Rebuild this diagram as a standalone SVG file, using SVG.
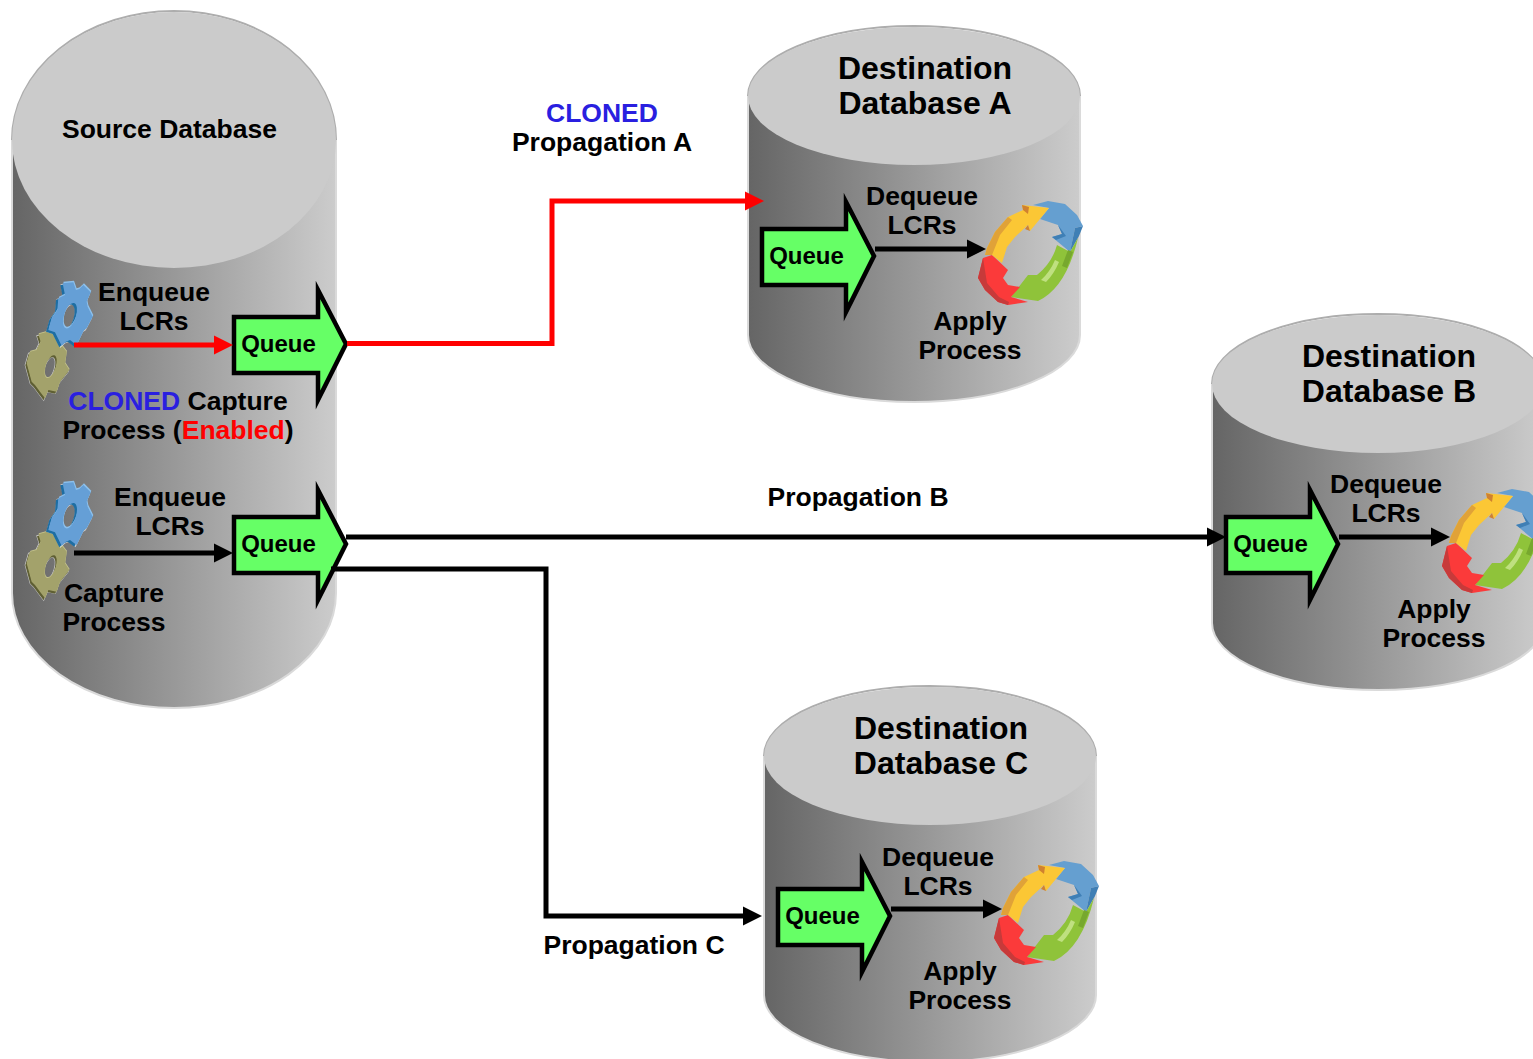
<svg xmlns="http://www.w3.org/2000/svg" xmlns:xlink="http://www.w3.org/1999/xlink" width="1533" height="1059" viewBox="0 0 1533 1059">
<style>
text{font-family:"Liberation Sans",Arial,sans-serif;font-weight:700;fill:#000;text-anchor:middle}
.s27{font-size:26.500px}.s33{font-size:32px}
.l{stroke:#000;stroke-width:5;fill:none}.r{stroke:#f00;stroke-width:5;fill:none}
.top{fill:#cbcbcb}.rim{fill:none;stroke:#adadad;stroke-width:2}.side{fill:url(#cyl);stroke:#dadada;stroke-width:2}
.blue{fill:#2a1fe0}.red{fill:#f00}
</style>
<defs>
<linearGradient id="cyl" x1="0" x2="1" y1="0" y2="0"><stop offset="0" stop-color="#656565"/><stop offset="1" stop-color="#cccccc"/></linearGradient>
<marker id="hb" markerUnits="userSpaceOnUse" markerWidth="20" markerHeight="20" refX="0" refY="10" orient="auto"><path d="M0,.5 L19,10 L0,19.5Z" fill="#000"/></marker>
<marker id="hr" markerUnits="userSpaceOnUse" markerWidth="20" markerHeight="20" refX="0" refY="10" orient="auto"><path d="M0,.5 L19,10 L0,19.5Z" fill="#f00"/></marker>
<g id="queue">
<path d="M0,0H84V-27L112,27L84,83V56H0Z" fill="#66ff66" stroke="#000" stroke-width="4.500" stroke-miterlimit="8"/>
<text x="44.500" y="34.500" style="font-size:24px">Queue</text>
</g>
<path id="bluegear" fill-rule="evenodd" d="M128,25L160,22L168,45L178,42L190,30L212,52L200,80L203,95L218,125L200,160L192,165L170,210L150,195L138,200L125,212L105,172L85,165L95,130L112,105L115,70L135,60ZM162,84A17,38 18 1 0 138,160A17,38 18 1 0 162,84Z"/>
<path id="olivegear" fill-rule="evenodd" d="M55,178L90,168L120,205L140,230L135,265L148,285L120,320L110,350L85,345L75,370L60,350L45,330L35,320L20,265L30,230L50,225L62,200ZM103,241A15,35 18 1 0 81,309A15,35 18 1 0 103,241Z"/>
<g id="gears" transform="translate(20,275) scale(.3333)">
<use xlink:href="#olivegear" fill="#fff" stroke="#fff" stroke-width="4" opacity=".6" transform="translate(-4,5)"/>
<use xlink:href="#olivegear" fill="#5f5f33" transform="translate(-4,6)"/>
<use xlink:href="#olivegear" fill="#c3c28c" transform="translate(1,-3)"/>
<use xlink:href="#olivegear" fill="#a3a26b"/>
<use xlink:href="#bluegear" fill="#fff" stroke="#fff" stroke-width="4" opacity=".6" transform="translate(-4,4)"/>
<use xlink:href="#bluegear" fill="#1e6ea3" transform="translate(-7,5)"/>
<use xlink:href="#bluegear" fill="#8cc0ec" transform="translate(2,-5)"/>
<use xlink:href="#bluegear" fill="#659fd6"/>
</g>
<g id="ring">
<path d="M1033,205L1048,201L1065,204L1077,215L1083,226L1075,228L1070,252L1052,237L1062,234L1058,225L1040,219L1049,208Z" fill="#659fd0"/>
<path d="M1083,226L1075,228L1070,252L1079,236Z" fill="#3f7fb5"/>
<path d="M1058,225L1062,234L1052,237L1056,240L1066,236Z" fill="#3f7fb5"/>
<path d="M1078,238L1070,252L1057,245Q1052,263 1037,275L1028,275L1011,297L1038,301Q1066,288 1078,238Z" fill="#8fc33a"/>
<path d="M1055,260Q1050,272 1041,280L1046,282Q1054,274 1059,262Z" fill="#bfe080"/>
<path d="M1068,250L1073,252L1067,268L1062,266Z" fill="#77a82e"/>
<path d="M983,258L978,278L985,290L998,302L1008,305L1028,302L1011,297L1020,287L1008,285L1003,278L1008,270L992,255Z" fill="#fb3a3a"/>
<path d="M983,258L978,278L985,290L998,302L1008,305L1009,302L999,297L987,283Z" fill="#c73a3a"/>
<path d="M985,255L987,248L995,232L1008,217L1023,210L1022,205L1049,208L1030,231L1028,225L1015,237L1007,247L1002,263L992,255Z" fill="#fbc735"/>
<path d="M985,255L987,248L995,232L1008,217L1012,220L1000,235L992,255Z" fill="#e0a238"/>
<path d="M1022,205L1023,210L1028,214L1029,207Z" fill="#d0812f"/>
<path d="M1028,225L1030,231L1025,229Z" fill="#d0812f"/>
</g>
</defs>

<g id="source-database">
<path class="side" d="M12,140V593A162,115 0 0 0 336,593V140Z"/>
<path class="rim" d="M12,140A162,129 0 0 1 336,140"/>
<ellipse class="top" cx="174" cy="140" rx="162" ry="128"/>
<text class="s27" x="169.500" y="138">Source Database</text>
</g>
<g id="source-capture-cloned">
<use xlink:href="#gears"/>
<text class="s27" x="154" y="301">Enqueue</text>
<text class="s27" x="154" y="330">LCRs</text>
<text class="s27" x="178" y="410"><tspan class="blue">CLONED</tspan> Capture</text>
<text class="s27" x="178" y="439">Process (<tspan class="red">Enabled</tspan>)</text>
</g>
<g id="source-queue-1"><use xlink:href="#queue" transform="translate(234,317)"/></g>
<g id="source-capture">
<use xlink:href="#gears" transform="translate(0,200)"/>
<text class="s27" x="170" y="506">Enqueue</text>
<text class="s27" x="170" y="535">LCRs</text>
<text class="s27" x="114" y="602">Capture</text>
<text class="s27" x="114" y="631">Process</text>
</g>
<g id="source-queue-2"><use xlink:href="#queue" transform="translate(234,517)"/></g>

<g id="destination-a">
<path class="side" d="M748,96V335A166,67 0 0 0 1080,335V96Z"/>
<path class="rim" d="M748,96A166,70 0 0 1 1080,96"/>
<ellipse class="top" cx="914" cy="96" rx="166" ry="69"/>
<text class="s33" x="925" y="79">Destination</text>
<text class="s33" x="925" y="114">Database A</text>
<use xlink:href="#queue" transform="translate(762,229)"/>
<text class="s27" x="922" y="205">Dequeue</text>
<text class="s27" x="922" y="234">LCRs</text>
<use xlink:href="#ring"/>
<text class="s27" x="970" y="330">Apply</text>
<text class="s27" x="970" y="359">Process</text>
</g>
<g id="destination-b" transform="translate(464,288)">
<path class="side" d="M748,96V335A166,67 0 0 0 1080,335V96Z"/>
<path class="rim" d="M748,96A166,70 0 0 1 1080,96"/>
<ellipse class="top" cx="914" cy="96" rx="166" ry="69"/>
<text class="s33" x="925" y="79">Destination</text>
<text class="s33" x="925" y="114">Database B</text>
<use xlink:href="#queue" transform="translate(762,229)"/>
<text class="s27" x="922" y="205">Dequeue</text>
<text class="s27" x="922" y="234">LCRs</text>
<use xlink:href="#ring"/>
<text class="s27" x="970" y="330">Apply</text>
<text class="s27" x="970" y="359">Process</text>
</g>
<g id="destination-c" transform="translate(16,660)">
<path class="side" d="M748,96V335A166,67 0 0 0 1080,335V96Z"/>
<path class="rim" d="M748,96A166,70 0 0 1 1080,96"/>
<ellipse class="top" cx="914" cy="96" rx="166" ry="69"/>
<text class="s33" x="925" y="79">Destination</text>
<text class="s33" x="925" y="114">Database C</text>
<use xlink:href="#queue" transform="translate(762,229)"/>
<text class="s27" x="922" y="206">Dequeue</text>
<text class="s27" x="922" y="235">LCRs</text>
<use xlink:href="#ring"/>
<text class="s27" x="944" y="320">Apply</text>
<text class="s27" x="944" y="349">Process</text>
</g>

<g id="connectors">
<path class="r" d="M74,345H214" marker-end="url(#hr)"/>
<path class="l" d="M74,553H214" marker-end="url(#hb)"/>
<path class="r" d="M347,343.500H552V201H745" marker-end="url(#hr)"/>
<path class="l" d="M346,537H1207" marker-end="url(#hb)"/>
<path class="l" d="M331,569H546V916H743" marker-end="url(#hb)"/>
<path class="l" d="M875,249H967" marker-end="url(#hb)"/>
<path class="l" d="M1339,537H1431" marker-end="url(#hb)"/>
<path class="l" d="M891,909H983" marker-end="url(#hb)"/>
</g>
<g id="connector-labels">
<text class="s27 blue" x="602" y="122">CLONED</text>
<text class="s27" x="602" y="151">Propagation A</text>
<text class="s27" x="858" y="506">Propagation B</text>
<text class="s27" x="634" y="954">Propagation C</text>
</g>
</svg>
